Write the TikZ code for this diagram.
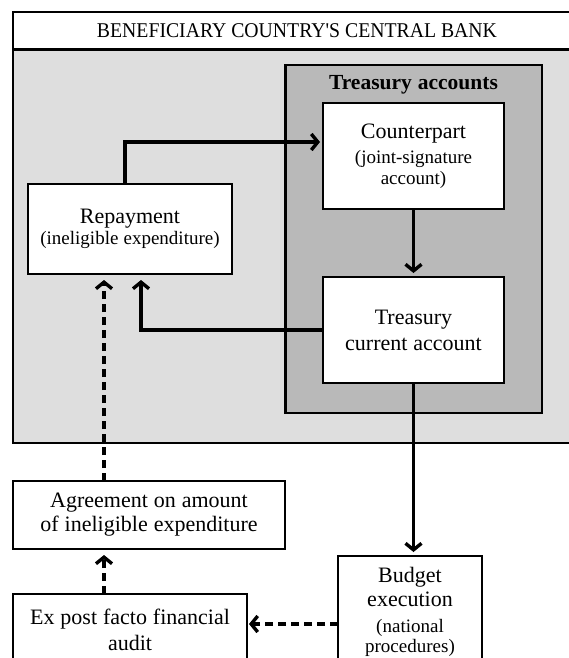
\documentclass[tikz,border=0pt]{standalone}
\usepackage{fontspec}
\setmainfont{Liberation Serif}
\newfontfamily\titlefont{Liberation Serif}[FakeStretch=0.94]
\usetikzlibrary{arrows.meta}
\definecolor{bglight}{HTML}{DEDEDE}
\definecolor{bgdark}{HTML}{B9B9B9}
\newcommand\mainsz{\fontsize{22}{24}\selectfont\spaceskip=0.27em\relax}
\newcommand\smallsz{\fontsize{19}{20.5}\selectfont\spaceskip=0.27em\relax}
\tikzset{
  boxnode/.style={draw=black, line width=2.2pt, fill=white, inner sep=0pt, outer sep=0pt, align=center},
  flow/.style={line width=3.4pt, -{Straight Barb[length=6.5pt,width=16pt]}},
  dflow/.style={flow, dash pattern=on 8pt off 5pt},
}
\begin{document}
\begin{tikzpicture}[x=1pt,y=-1pt]
\useasboundingbox (0,0) rectangle (569,658);
\clip (0,0) rectangle (569,658);
% central bank container
\fill[white] (13,12) rectangle (582,49.5);
\fill[bglight] (13,49.5) rectangle (582,443);
\draw[line width=2.2pt] (13,12) rectangle (582,443);
\draw[line width=2.2pt] (13,49.5) -- (582,49.5);
\node[inner sep=0pt] (cbt) at (297,31) {\titlefont\fontsize{21}{24}\selectfont BENEFICIARY COUNTRY'S CENTRAL BANK};
% treasury accounts container
\node[draw=black, line width=2.2pt, fill=bgdark, inner sep=0pt, minimum width=256.5pt, minimum height=348pt] (ta) at (413.75,239) {};
\node[inner sep=0pt] (tat) at (413.5,85) {\fontsize{21.5}{23}\selectfont\bfseries\spaceskip=0.28em\relax Treasury accounts};
% coordinates for connector lanes
\coordinate (dx) at (104,0);
\coordinate (dy) at (0,624);
% boxes
\node[boxnode, minimum width=181pt, minimum height=106pt, text width=175pt] (cp) at (413.5,156)
  {\mainsz Counterpart\par\vspace{5pt}\smallsz (joint-signature\\account)\par};
\node[boxnode, minimum width=181pt, minimum height=106pt, text width=175pt] (tc) at (413.5,330)
  {\mainsz\baselineskip=26pt Treasury\\current account\par};
\node[boxnode, minimum width=204pt, minimum height=90pt, text width=200pt] (rep) at (130,229)
  {\mainsz Repayment\par\smallsz (ineligible expenditure)\par};
\node[boxnode, minimum width=272pt, minimum height=68pt, text width=268pt] (agr) at (149,515)
  {\mainsz Agreement on amount\\of ineligible expenditure\par};
\node[boxnode, minimum width=144pt, minimum height=112pt, text width=140pt] (bud) at (410,612)
  {\mainsz Budget\\execution\par\vspace{5pt}\smallsz (national\\procedures)\par};
\node[boxnode, minimum width=234pt, minimum height=72pt, text width=230pt] (ex) at (130,630)
  {\mainsz\baselineskip=26pt Ex post facto financial\\audit\par};
% connectors
\draw[flow, shorten >=3pt] ([xshift=-5pt]rep.north) |- ([yshift=14pt]cp.west);
\draw[flow, shorten >=4pt] (cp.south) -- (tc.north);
\draw[flow, shorten >=6pt] (tc.west) -| ([xshift=11pt]rep.south);
\draw[flow, shorten >=4pt] (tc.south) -- (tc.south |- bud.north);
\draw[dflow, shorten >=2pt] (dy -| bud.west) -- (dy -| ex.east);
\draw[dflow, shorten >=6pt] (dx |- ex.north) -- (dx |- agr.south);
\draw[dflow, shorten >=6pt] (dx |- agr.north) -- (dx |- rep.south);
\end{tikzpicture}
\end{document}
